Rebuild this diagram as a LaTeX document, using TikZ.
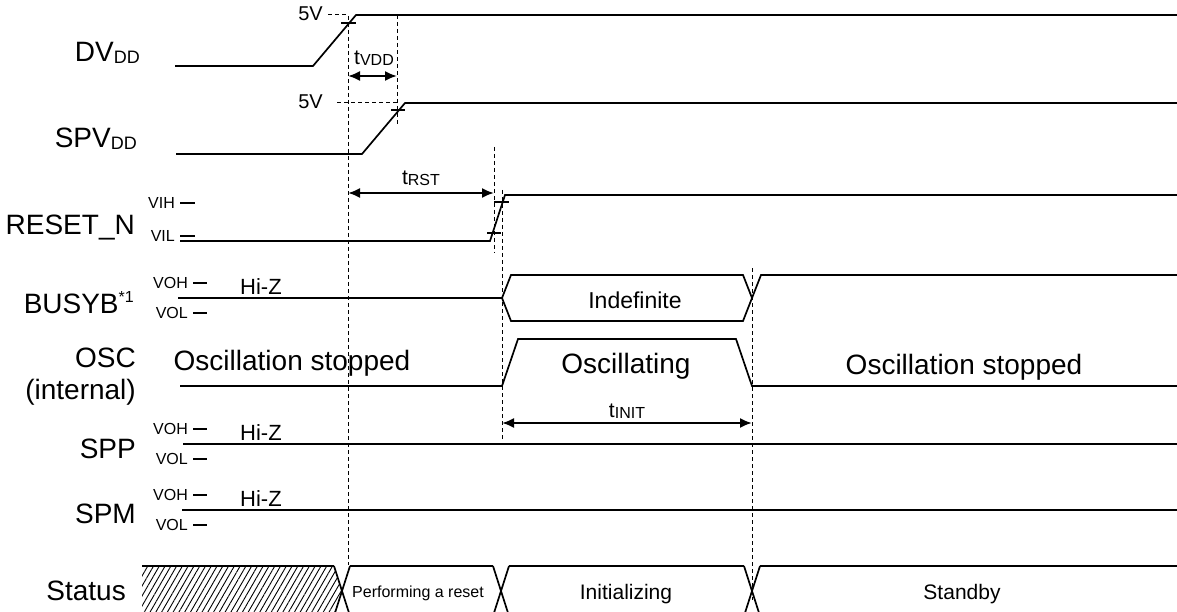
\documentclass[tikz,border=0pt]{standalone}
\usepackage{fontspec}
\setmainfont{Liberation Sans}
\usetikzlibrary{arrows.meta,patterns.meta}
\newcommand\myfs[1]{\fontsize{#1}{#1}\selectfont}
\begin{document}
\begin{tikzpicture}[x=1pt,y=-1pt,
  sig/.style={line width=1.7pt, line join=miter},
  tickmark/.style={line width=1.5pt},
  dsh/.style={line width=1pt, dash pattern=on 4pt off 3pt},
  dimline/.style={line width=2pt, {Latex[length=12pt,width=10pt]}-{Latex[length=12pt,width=10pt]}},
  lbl/.style={font=\myfs{28}, inner sep=0pt, anchor=base east},
  big/.style={font=\myfs{28}, inner sep=0pt, anchor=base},
  lvl/.style={font=\myfs{16}, inner sep=0pt, anchor=east},
  lvldash/.style={line width=1.1pt},
  hiz/.style={font=\myfs{22}, inner sep=0pt, anchor=base west},
  volt/.style={font=\myfs{20}, inner sep=0pt, anchor=east},
  tlbl/.style={font=\myfs{21}, inner sep=0pt, anchor=base},
  st/.style={font=\myfs{21}, inner sep=0pt, anchor=base}
]
\useasboundingbox (0,0) rectangle (1177,612);

% ---------- signal names ----------
\node[lbl] (lDV) at (140,62) {DV\raisebox{-1.5pt}{\myfs{18}DD}};
\node[lbl] (lSPV) at (137,148) {SPV\raisebox{-1.5pt}{\myfs{18}DD}};
\node[lbl] (lRST) at (135,235) {RESET\_N};
\node[lbl] (lBUSY) at (134,313) {BUSYB\raisebox{11pt}{\myfs{16}*1}};
\node[lbl] (lOSC) at (136,367) {OSC};
\node[lbl] (lINT) at (136,399) {(internal)};
\node[lbl] (lSPP) at (136,458) {SPP};
\node[lbl] (lSPM) at (136,523) {SPM};
\node[lbl] (lSTAT) at (126,600) {Status};

% ---------- DVDD ----------
\draw[sig] (175,66) -- (313,66) -- (356,15) -- (1177,15);
\draw[tickmark] (341,23) -- (356,23);
\node[volt] (v5a) at (323,14) {5V};
\coordinate (dA) at (348,15);
\coordinate (dAbot) at (348,565);
\draw[dsh] (328,15) -- (dA) -- (dAbot);

% ---------- SPVDD ----------
\draw[sig] (176,154) -- (362,154) -- (405,103) -- (1177,103);
\draw[tickmark] (391,110) -- (405,110);
\node[volt] (v5b) at (323,102) {5V};
\coordinate (dB) at (397,15);
\coordinate (dBbot) at (397,126);
\draw[dsh] (337,103) -- (397,103);
\draw[dsh] (dB) -- (dBbot);

% tVDD
\coordinate (tv1) at (348,76);
\coordinate (tv2) at (397,76);
\draw[dimline] (tv1) -- (tv2);
\node[tlbl] (tvdd) at (374,65) {t\raisebox{-1pt}{\myfs{16}VDD}};

% ---------- RESET_N ----------
\draw[sig] (180,241) -- (490,241) -- (505,195) -- (1177,195);
\draw[tickmark] (494,202) -- (509,202);
\draw[tickmark] (487,233) -- (501,233);
\node[lvl] (vih) at (175,203) {VIH};
\draw[lvldash] (180,203) -- (195,203);
\node[lvl] (vil) at (175,236) {VIL};
\draw[lvldash] (180,236) -- (195,236);
\coordinate (dC) at (494,147);
\coordinate (dCbot) at (494,253);
\draw[dsh] (dC) -- (dCbot);
\coordinate (tr1) at (348,193);
\coordinate (tr2) at (494,193);
\draw[dimline] (tr1) -- (tr2);
\node[tlbl] (trst) at (421,185) {t\raisebox{-1pt}{\myfs{16}RST}};

% ---------- BUSYB ----------
\draw[sig] (178,298) -- (502,298) -- (511,275) -- (743,275) -- (752,298) -- (761,275) -- (1177,275);
\draw[sig] (502,298) -- (511,321) -- (743,321) -- (752,298);
\node[lvl] (boh) at (188,283) {VOH};
\draw[lvldash] (193,283) -- (207,283);
\node[lvl] (bol) at (188,313) {VOL};
\draw[lvldash] (193,313) -- (207,313);
\node[hiz] (bhz) at (240,294) {Hi-Z};
\node[big,font=\myfs{23}] (indef) at (635,308) {Indefinite};

% ---------- OSC ----------
\draw[sig] (180,386) -- (502,386) -- (518,339) -- (736,339) -- (752,386) -- (1177,386);
\node[big] (oscl) at (292,370) {Oscillation stopped};
\node[big] (oscm) at (626,373) {Oscillating};
\node[big] (oscr) at (964,374) {Oscillation stopped};

\coordinate (dD) at (502,190);
\coordinate (dDbot) at (502,440);
\draw[dsh] (dD) -- (dDbot);
\coordinate (dE) at (752,268);
\coordinate (dEbot) at (752,600);
\draw[dsh] (dE) -- (dEbot);

% tINIT
\coordinate (ti1) at (502,423);
\coordinate (ti2) at (752,423);
\draw[dimline] (ti1) -- (ti2);
\node[tlbl] (tinit) at (627,417) {t\raisebox{-1pt}{\myfs{16}INIT}};

% ---------- SPP ----------
\draw[sig] (183,444) -- (1177,444);
\node[lvl] (poh) at (188,429) {VOH};
\draw[lvldash] (193,429) -- (207,429);
\node[lvl] (pol) at (188,459) {VOL};
\draw[lvldash] (193,459) -- (207,459);
\node[hiz] (phz) at (240,440) {Hi-Z};

% ---------- SPM ----------
\draw[sig] (182,510) -- (1177,510);
\node[lvl] (moh) at (188,495) {VOH};
\draw[lvldash] (193,495) -- (207,495);
\node[lvl] (mol) at (188,525) {VOL};
\draw[lvldash] (193,525) -- (207,525);
\node[hiz] (mhz) at (240,506) {Hi-Z};

% ---------- Status ----------
\fill[pattern={Lines[angle=60,distance=5pt,line width=0.9pt]}] (142,566) -- (334,566) -- (342,591) -- (334,616) -- (142,616) -- cycle;
\draw[sig] (142,566) -- (334,566);
\draw[sig] (334,566) -- (350,616);
\draw[sig] (350,566) -- (334,616);
\draw[sig] (350,566) -- (493,566);
\draw[sig] (493,566) -- (509,616);
\draw[sig] (509,566) -- (493,616);
\draw[sig] (509,566) -- (744,566);
\draw[sig] (744,566) -- (760,616);
\draw[sig] (760,566) -- (744,616);
\draw[sig] (760,566) -- (1177,566);
\node[st,font=\myfs{16}] (sreset) at (418,597) {Performing a reset};
\node[st] (sinit) at (626,599) {Initializing};
\node[st] (sstby) at (962,599) {Standby};
\end{tikzpicture}
\end{document}
